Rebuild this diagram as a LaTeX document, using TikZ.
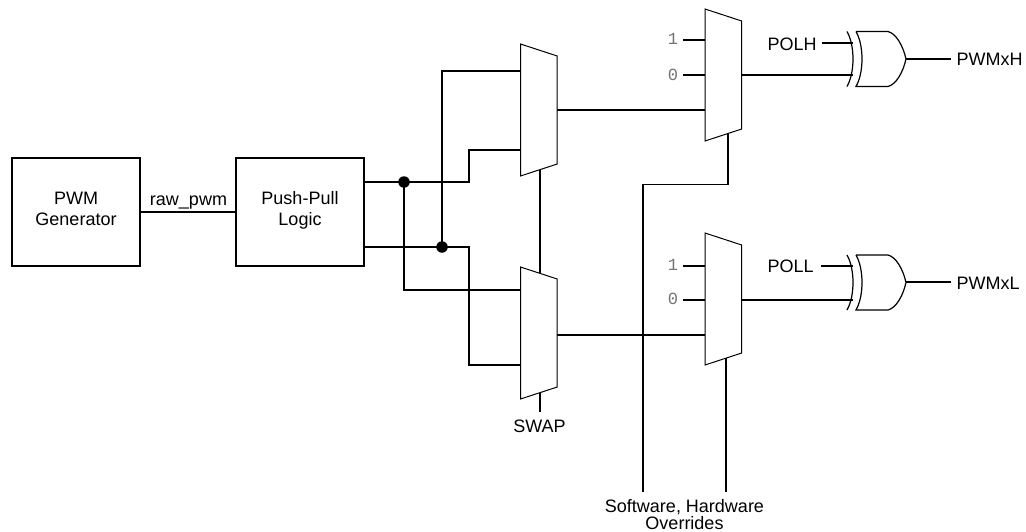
\documentclass[tikz,border=0pt]{standalone}
\usepackage{fontspec}
\setmainfont{Liberation Sans}
\newfontfamily\pinfont{Liberation Mono}
\tikzset{
  wire/.style={line width=1.6pt,line cap=butt,line join=miter},
  blockbox/.style={draw,line width=2pt,minimum width=128pt,minimum height=108pt,inner sep=0pt},
  lab/.style={inner sep=0pt,align=center,font=\fontsize{18}{18}\selectfont},
  pinlab/.style={inner sep=0pt,text=black!55,font=\pinfont\fontsize{17}{17}\selectfont},
  muxshape/.style={draw,fill=white,line width=1pt,line join=miter},
  gateline/.style={line width=1.2pt},
  dotnode/.style={circle,fill=black,inner sep=0pt,minimum size=11.5pt},
  pics/mux/.style={code={
    \draw[muxshape] (0,0) -- (36.7,12) -- (36.7,120) -- (0,132) -- cycle;
  }},
  pics/xorgate/.style={code={
    \draw[gateline] (0,0) .. controls (8,14) and (8,41) .. (0,55);
    \draw[gateline] (9,0) -- (41,0) .. controls (49,2) and (56,14) .. (59,27.5) .. controls (56,41) and (49,53) .. (41,55) -- (9,55) .. controls (17,41) and (17,14) .. (9,0);
  }},
}
\begin{document}
\begin{tikzpicture}[x=1pt,y=-1pt]
\useasboundingbox (0,0) rectangle (1026,531);
% blocks
\node[blockbox] (gen) at (76,212) {};
\node[blockbox] (pp) at (300,212) {};
\node[lab,anchor=base] (gen1) at (76,204) {PWM};
\node[lab,anchor=base] (gen2) at (76,225) {Generator};
\node[lab,anchor=base] (pp1) at (300,204) {Push-Pull};
\node[lab,anchor=base] (pp2) at (300,225) {Logic};
\draw[wire] (gen.east) -- (pp.west);
\node[lab,anchor=base] (raw) at (188.5,205) {raw\_pwm};
% pin coordinates
\coordinate (ppa) at (364,182);
\coordinate (ppb) at (364,247);
\coordinate (ja) at (404,182);
\coordinate (jb) at (442,247);
\coordinate (a1) at (469,182);
\coordinate (a2) at (469,150);
\coordinate (b1) at (469,247);
\coordinate (b2) at (469,365);
\coordinate (m1i0) at (520.5,71);
\coordinate (m1i1) at (520.5,150);
\coordinate (m1o) at (557,110);
\coordinate (m2i0) at (520.5,290);
\coordinate (m2i1) at (520.5,365);
\coordinate (m2o) at (557,335);
\coordinate (m3a) at (683,40);
\coordinate (m3ai) at (705,40);
\coordinate (m3b) at (683,75);
\coordinate (m3bi) at (705,75);
\coordinate (m3c) at (705,110);
\coordinate (m3o) at (741.7,75);
\coordinate (m4a) at (683,266);
\coordinate (m4ai) at (705,266);
\coordinate (m4b) at (683,300);
\coordinate (m4bi) at (705,300);
\coordinate (m4c) at (705,335);
\coordinate (m4o) at (741.7,300);
\coordinate (swaptop) at (540,170);
\coordinate (swapend) at (540,412);
\coordinate (ovA) at (643,492);
\coordinate (ovB) at (726,492);
\coordinate (ovC) at (643,184.5);
\coordinate (ovD) at (728,184.5);
\coordinate (ovE) at (728,130);
\coordinate (ovF) at (726,355);
% wiring
\draw[wire] (ppa) -- (a1) -- (a2) -- (m1i1);
\draw[wire] (ppb) -- (b1) -- (b2) -- (m2i1);
\draw[wire] (ja) |- (m2i0);
\draw[wire] (jb) |- (m1i0);
\draw[wire] (m1o) -- (m3c);
\draw[wire] (m2o) -- (m4c);
\draw[wire] (swaptop) -- (swapend);
\draw[wire] (ovA) -- (ovC) -- (ovD) -- (ovE);
\draw[wire] (ovB) -- (ovF);
\draw[wire] (m3a) -- (m3ai);
\draw[wire] (m3b) -- (m3bi);
\draw[wire] (m4a) -- (m4ai);
\draw[wire] (m4b) -- (m4bi);
\node[dotnode] (da) at (ja) {};
\node[dotnode] (db) at (jb) {};
% muxes
\pic at (520.5,44) {mux};
\pic at (520.5,267) {mux};
\pic at (705,9) {mux};
\pic at (705,233) {mux};
% outputs to gates
\coordinate (x1a) at (853,43);
\coordinate (x1b) at (853,75);
\coordinate (x1o) at (906,59);
\coordinate (x1e) at (951,59);
\coordinate (x1s) at (822,43);
\coordinate (x2a) at (853,266);
\coordinate (x2b) at (853,300);
\coordinate (x2o) at (906,282);
\coordinate (x2e) at (951,282);
\coordinate (x2s) at (821,266);
\draw[wire] (m3o) -- (x1b);
\draw[wire] (m4o) -- (x2b);
\draw[wire] (x1s) -- (x1a);
\draw[wire] (x2s) -- (x2a);
\draw[wire] (x1o) -- (x1e);
\draw[wire] (x2o) -- (x2e);
\pic at (847,31.5) {xorgate};
\pic at (847,255) {xorgate};
% labels
\node[pinlab] (p1a) at (673,39) {1};
\node[pinlab] (p0a) at (673,75) {0};
\node[pinlab] (p1b) at (673,265) {1};
\node[pinlab] (p0b) at (673,299) {0};
\node[lab,anchor=base west] (polh) at (767.5,50) {POLH};
\node[lab,anchor=base west] (poll) at (767.5,272) {POLL};
\node[lab,anchor=base west] (outh) at (956.5,65) {PWMxH};
\node[lab,anchor=base west] (outl) at (956.5,289) {PWMxL};
\node[lab,anchor=base] (swap) at (539.5,432) {SWAP};
\node[lab,anchor=base] (ov1) at (684.5,512) {Software, Hardware};
\node[lab,anchor=base] (ov2) at (684.5,529) {Overrides};
\end{tikzpicture}
\end{document}
